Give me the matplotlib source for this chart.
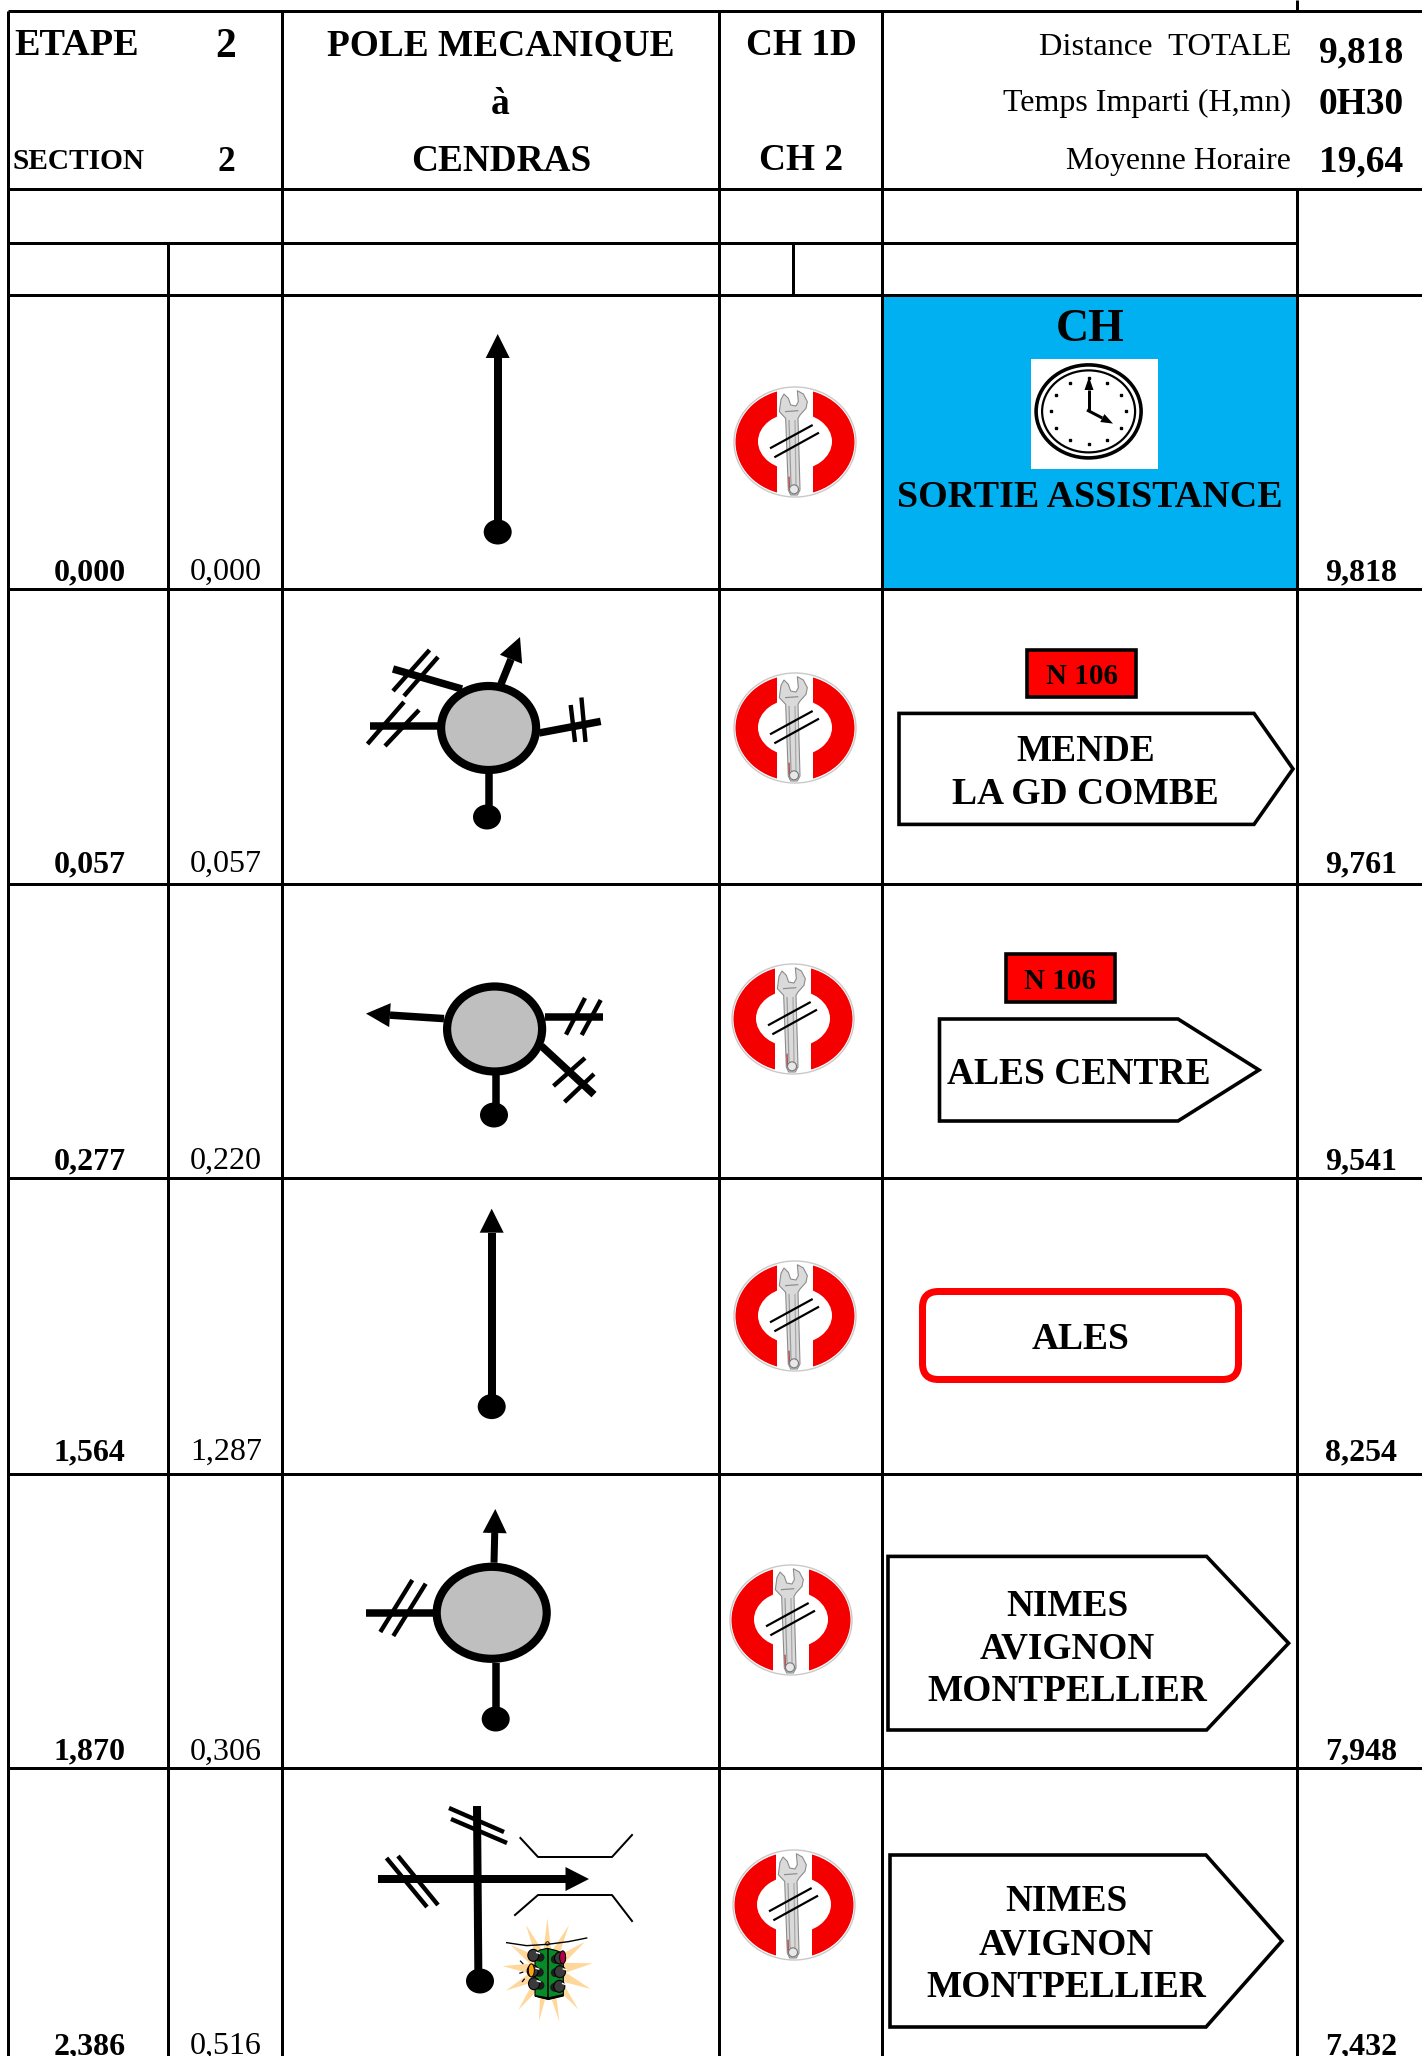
#!/usr/bin/env python3
"""Page de roadbook : etape 2, section 2, Pole Mecanique a Cendras."""

import numpy as np
import matplotlib
matplotlib.use("Agg")
import matplotlib.pyplot as plt
from matplotlib.patches import Ellipse, Polygon, Rectangle, FancyBboxPatch

plt.rcParams["font.family"] = ["Liberation Serif", "DejaVu Serif"]

# Donnees du tableau
cumul = ["0,000", "0,057", "0,277", "1,564", "1,870", "2,386"]
partiel = ["0,000", "0,057", "0,220", "1,287", "0,306", "0,516"]
restant = ["9,818", "9,761", "9,541", "8,254", "7,948", "7,432"]
info_labels = ["Distance  TOTALE", "Temps Imparti (H,mn)", "Moyenne Horaire"]
info_values = ["9,818", "0H30", "19,64"]

# Mise en page, en pixels de l'image
W, H = 1422, 2056
X_LEFT, X_SUB, X_ROUTE, X_CH, X_SIGN, X_REST = 8, 168, 282, 719, 882, 1297
Y_TOP, Y_HEAD, Y_BLANK, Y_RULE = 11, 189, 243, 295
row_bottom = [589, 884, 1178, 1474, 1768]
baselines = [580, 872, 1169, 1460, 1759.5, 2054]
wrench_centers = [(795, 442), (795, 728), (793, 1019), (795, 1316), (791, 1620), (794, 1905)]

fig = plt.figure(figsize=(W / 100, H / 100), dpi=100)
ax = fig.add_axes([0, 0, 1, 1])
ax.set_xlim(0, W)
ax.set_ylim(H, 0)
ax.axis("off")


def px(v):
    # largeur en pixels -> points
    return v * 0.72


def seg(x0, y0, x1, y1, w=3.0, color="black", z=3, cap="butt"):
    ax.plot([x0, x1], [y0, y1], color=color, lw=px(w), solid_capstyle=cap, zorder=z)


def txt(x, y, s, size, bold=True, ha="center", z=6):
    ax.text(x, y, s, fontsize=size, fontweight="bold" if bold else "normal",
            ha=ha, va="baseline", color="black", zorder=z)


def dot(x, y):
    ax.add_patch(Ellipse((x, y), 28, 25, fc="black", ec="none", zorder=4))


def arrow(x0, y0, x1, y1, base, half, w=7.5):
    # trait puis pointe triangulaire, base = longueur de la pointe
    d = np.array([x1 - x0, y1 - y0], dtype=float)
    d /= np.hypot(*d)
    n = np.array([-d[1], d[0]])
    tip = np.array([x1, y1], dtype=float)
    b = tip - d * base
    seg(x0, y0, b[0], b[1], w)
    ax.add_patch(Polygon([tip, b + n * half, b - n * half], fc="black", ec="none", zorder=4))


def road(x0, y0, x1, y1, hashes, w=7.5, hw=4.4):
    seg(x0, y0, x1, y1, w)
    for h in hashes:
        seg(h[0], h[1], h[2], h[3], hw)


def roundabout(x, y, rx, ry):
    ax.add_patch(Ellipse((x, y), 2 * rx, 2 * ry, fc="#BFBFBF", ec="black", lw=px(8.2), zorder=5))


def wrench_icon(cx, cy):
    def w(a, b):
        # repere du zoom de l'icone, trois fois l'echelle
        return cx + (a - 225) / 3, cy + (b - 216) / 3

    ax.add_patch(Ellipse((cx, cy), 119, 106, fc="#F50000", ec="none", zorder=2))
    ax.add_patch(Ellipse((cx, cy - 0.5), 74, 57, fc="white", ec="none", zorder=2))
    ax.add_patch(Rectangle((cx - 18, cy - 56), 36, 112, fc="white", ec="none", zorder=2))
    ax.add_patch(Ellipse((cx, cy), 122, 110, fc="none", ec="#C9C9C9", lw=1.0, zorder=2))
    # cle a molette
    body = [(183, 88), (192, 72), (205, 85), (212, 105), (228, 108), (235, 95), (232, 62),
            (250, 72), (262, 95), (258, 115), (240, 135), (234, 145), (240, 360), (232, 375),
            (212, 375), (205, 360), (197, 145), (178, 125)]
    ax.add_patch(Polygon([w(a, b) for a, b in body], fc="#DADADA", ec="#8C8C8C", lw=0.8, zorder=2.5))
    seg(*w(207, 150), *w(213, 345), 1.2, "#9A9A9A", z=2.6)
    seg(*w(225, 150), *w(228, 345), 1.2, "#A8A8A8", z=2.6)
    seg(*w(207, 320), *w(208, 355), 1.5, "#B05050", z=2.6)
    seg(*w(195, 125), *w(235, 122), 1.2, "#8C8C8C", z=2.6)
    ax.add_patch(Ellipse(w(222, 358), 9, 9, fc="#E8E8E8", ec="#777777", lw=0.8, zorder=2.7))
    seg(*w(150, 235), *w(278, 165), 2.2, z=2.8)
    seg(*w(163, 262), *w(297, 188), 2.2, z=2.8)


def sign(left, top, shoulder, tip, bottom, w=3.6):
    mid = (top + bottom) / 2
    ax.add_patch(Polygon([(left, top), (shoulder, top), (tip, mid), (shoulder, bottom), (left, bottom)],
                         closed=True, fc="white", ec="black", lw=px(w), joinstyle="miter", zorder=3))


def n106(x0, y0, x1, y1, tx, ty):
    ax.add_patch(Rectangle((x0, y0), x1 - x0, y1 - y0, fc="#FF0000", ec="black", lw=px(3.6), zorder=3))
    txt(tx, ty, "N 106", 21)


def traffic_light():
    # repere du zoom de la vignette, trois fois l'echelle
    def z(a, b):
        return 490 + a / 3, 1910 + b / 3

    tips = [(172, 25), (237, 45), (285, 95), (308, 160), (302, 237), (265, 298), (208, 335),
            (147, 335), (85, 300), (47, 242), (38, 168), (62, 105), (108, 45)]
    c = np.array([172, 180.0])
    star = []
    for i, t in enumerate(tips):
        star.append(z(*t))
        nxt = np.array(tips[(i + 1) % len(tips)], dtype=float)
        m = (np.array(t) + nxt) / 2 - c
        m = c + m / np.hypot(*m) * 56
        star.append(z(*m))
    ax.add_patch(Polygon(star, fc="#FFD79A", ec="none", zorder=3))
    wire = [z(50, 98), z(110, 107), z(172, 103), z(235, 95), z(290, 84)]
    ax.plot(*zip(*wire), color="black", lw=1.0, zorder=3.2)
    ax.add_patch(Polygon([z(135, 130), z(150, 120), z(172, 115), z(200, 122), z(220, 132),
                          z(220, 258), z(175, 268), z(135, 258)],
                         fc="#078A28", ec="black", lw=0.8, zorder=3.3))
    ax.add_patch(Polygon([z(135, 255), z(175, 262), z(220, 252), z(220, 258), z(175, 270), z(135, 260)],
                         fc="black", ec="none", zorder=3.4))
    seg(*z(174, 115), *z(174, 265), 1.6, z=3.4)
    # feux : capot sombre, reflet blanc
    lamps = [(130, 136, 150, 142), (210, 144, 196, 148), (128, 183, 148, 187),
             (210, 185, 196, 188), (132, 221, 150, 226), (208, 229, 194, 232)]
    for a, b, c2, d in lamps:
        seg(*z(a, b), *z(c2, d), 9, "#1C1C1C", z=3.5, cap="round")
        x, y = z(a, b)
        ax.add_patch(Ellipse((x, y), 11, 12, fc="#3A3A3A", ec="black", lw=0.8, zorder=3.55))
        seg(*z(a + 8, b - 9), *z(a + 20, b - 5), 1.4, "white", z=3.6)
    for a, b, col in [(218, 142, "#B00048"), (124, 181, "#FFA510")]:
        x, y = z(a, b)
        ax.add_patch(Ellipse((x, y), 6, 13, fc=col, ec="black", lw=0.7, zorder=3.7))
    ax.plot(*z(172, 99), "o", ms=2.5, mfc="none", mec="black", mew=0.6, zorder=3.6)
    for h in [(90, 152, 100, 162), (88, 190, 100, 186), (96, 216, 104, 206)]:
        seg(*z(h[0], h[1]), *z(h[2], h[3]), 1.2, z=3.6)


def clock():
    ax.add_patch(Rectangle((1031, 358.6), 126.6, 110.2, fc="white", ec="none", zorder=2))
    cx, cy = 1088.6, 411.4
    ax.add_patch(Ellipse((cx, cy), 105, 93, fc="white", ec="black", lw=px(3.6), zorder=3))
    ax.add_patch(Ellipse((cx, cy), 93, 82, fc="white", ec="black", lw=px(2.2), zorder=3))
    for i in range(12):
        a = np.deg2rad(30 * i)
        ax.plot(cx + 37.5 * np.sin(a), cy - 33 * np.cos(a), "s", ms=2.0, color="black", zorder=4)
    arrow(1089, 411, 1089, 377, 13, 4.5, w=3.0)
    arrow(1087, 410, 1113, 423.6, 12, 4.5, w=3.0)


# Fond bleu de la premiere case, sous la grille
ax.add_patch(Rectangle((X_SIGN, Y_RULE), X_REST - X_SIGN, row_bottom[0] - Y_RULE, fc="#00B0F0", ec="none", zorder=1))

# Grille
seg(X_LEFT, Y_TOP, W, Y_TOP)
seg(X_LEFT, Y_HEAD, W, Y_HEAD)
seg(X_LEFT, Y_BLANK, X_REST, Y_BLANK)
seg(X_LEFT, Y_RULE, W, Y_RULE)
for y in row_bottom:
    seg(X_LEFT, y, W, y)
for x in [X_LEFT, X_ROUTE, X_CH, X_SIGN]:
    seg(x, Y_TOP, x, H)
seg(X_SUB, Y_BLANK, X_SUB, H)
seg(793, Y_BLANK, 793, Y_RULE)
seg(X_REST, Y_HEAD, X_REST, H)
seg(X_REST, 0, X_REST, Y_TOP)

# En-tete
txt(14, 55, "ETAPE", 27.5, ha="left")
txt(226, 57, "2", 30)
txt(13, 169, "SECTION", 21.2, ha="left")
txt(226, 171, "2", 25.6)
txt(501, 55, "POLE MECANIQUE", 26.9)
txt(500, 114, "à", 26.9)
txt(501.5, 170.7, "CENDRAS", 26.8)
txt(801, 54.7, "CH 1D", 26.8)
txt(801, 169.5, "CH 2", 26.8)
for label, value, size, by, vy in zip(info_labels, info_values, [23.4, 23, 22.9], [54.7, 111, 169.5], [62.4, 113.7, 171]):
    txt(1291, by, label, size, bold=False, ha="right")
    txt(1361, vy, value, 27)

# Distances
for a, b, c, y in zip(cumul, partiel, restant, baselines):
    txt(89.5, y, a, 23)
    txt(226, y, b, 23, bold=False)
    txt(1361, y, c, 23)

for cx, cy in wrench_centers:
    wrench_icon(cx, cy)

# Case 1
arrow(497.7, 532, 497.7, 334, 24, 12, w=8)
dot(497.7, 532)
txt(1090.4, 341.4, "CH", 33)
clock()
txt(1090, 507, "SORTIE ASSISTANCE", 27.4)

# Case 2
seg(488.5, 774, 488.5, 812, 7.5)
dot(487, 817)
arrow(501, 684, 520, 637, 24, 12)
road(393, 669, 462, 689, [(429.5, 650, 393, 691), (438, 657, 404, 696)])
road(370, 726, 437.5, 726, [(404, 702, 367.5, 744), (419, 710, 385, 746)])
road(539, 733, 600.7, 721.4, [(570.7, 705, 575, 742), (581.4, 697.5, 585.5, 742)])
roundabout(488.6, 728, 47.5, 42)
sign(899, 713.4, 1254, 1293, 824.4)
n106(1027, 649.5, 1136, 697, 1081.5, 684)
txt(1085.7, 761, "MENDE", 26.8)
txt(1085.7, 804.5, "LA GD COMBE", 27)

# Case 3
seg(495.6, 1075, 495.6, 1110, 7.5)
dot(494, 1115)
arrow(444, 1018.6, 366, 1013.6, 24, 12)
road(545, 1017, 603, 1017, [(585, 998, 566, 1034.6), (600.7, 1000, 581.7, 1035)])
road(541.4, 1046, 594, 1094.6, [(585, 1058, 553.5, 1086), (594, 1074, 564.5, 1102)])
roundabout(494.6, 1029, 47.5, 42.5)
sign(939.5, 1019, 1178, 1259, 1121)
n106(1006, 954, 1115, 1002, 1060, 989)
txt(1078.8, 1083.6, "ALES CENTRE", 27)

# Case 4
arrow(491.7, 1406.6, 491.7, 1208.7, 24, 12, w=8)
dot(491.7, 1406.6)
ax.add_patch(FancyBboxPatch((938.5, 1307.5), 284, 56, boxstyle="round,pad=16,rounding_size=16",
                            fc="white", ec="#FF0000", lw=px(7), zorder=3))
txt(1080.5, 1349, "ALES", 27)

# Case 5
seg(495.7, 1663, 495.7, 1719, 7.5)
dot(495.7, 1719)
arrow(494, 1562.7, 495.3, 1509, 24, 12, w=7)
road(365.7, 1612.8, 433, 1612.8, [(412.3, 1580, 380.3, 1632), (425.7, 1583.7, 393.3, 1636)])
roundabout(491.7, 1612.8, 55, 46)
sign(888, 1556.4, 1206.6, 1288.6, 1730)
for s, y in zip(["NIMES", "AVIGNON", "MONTPELLIER"], [1615.7, 1658.4, 1701]):
    txt(1067, y, s, 26.8)

# Case 6
seg(477, 1806, 478.4, 1980, 8)
dot(480, 1981)
arrow(378, 1879, 589, 1879, 23.5, 12, w=8)
for h in [(386.5, 1858, 427, 1907), (398, 1856, 438, 1905), (449, 1808, 504, 1832), (451, 1819, 507, 1843)]:
    seg(h[0], h[1], h[2], h[3], 4.4)
ax.plot([520.4, 538, 612, 632], [1838, 1857, 1857, 1835], color="black", lw=px(2), zorder=3)
ax.plot([515, 538, 612, 632], [1915, 1895, 1895, 1921], color="black", lw=px(2), zorder=3)
traffic_light()
sign(890, 1855, 1206, 1282, 2027)
for s, y in zip(["NIMES", "AVIGNON", "MONTPELLIER"], [1911.3, 1954.5, 1997]):
    txt(1066.7, y, s, 26.8)

fig.savefig("out.png", dpi=100)
